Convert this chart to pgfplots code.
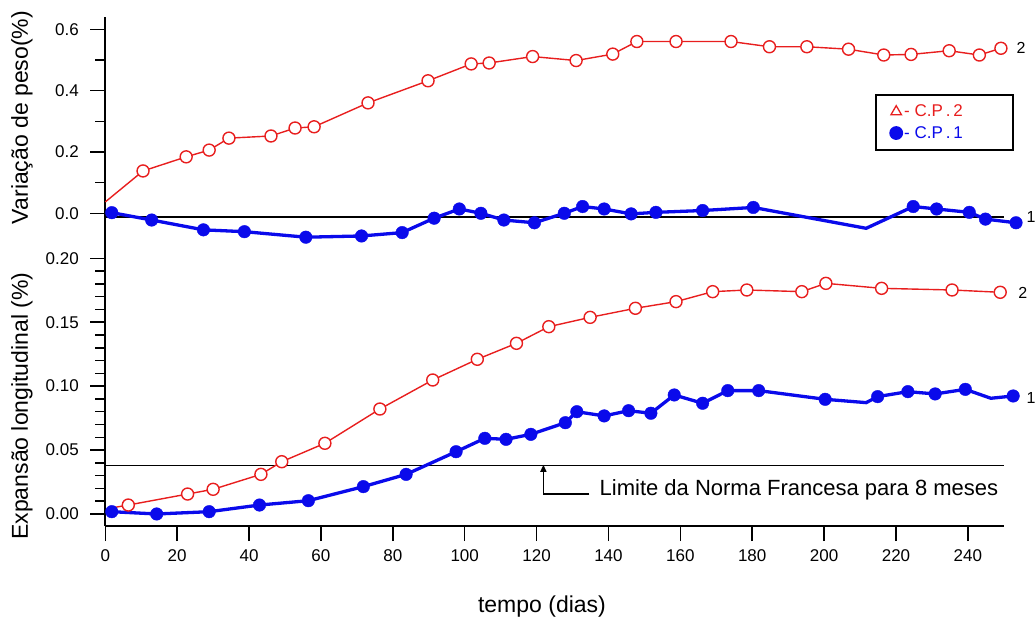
\documentclass[border=0pt]{standalone}
\usepackage{fontspec}
\setmainfont{Liberation Sans}
\usepackage{pgfplots}
\pgfplotsset{compat=1.18}
\usepackage{pgfplotstable}
\usetikzlibrary{arrows.meta}

\definecolor{cpred}{RGB}{232,30,30}
\definecolor{cpblue}{RGB}{10,10,235}

% variacao de peso, C.P.2 (first row: line start, no marker)
\pgfplotstableread{
x y
0 0.037
10.5 0.138
22.5 0.184
28.9 0.206
34.4 0.245
46.1 0.252
52.8 0.278
58.1 0.282
73.1 0.360
89.8 0.432
101.8 0.487
106.8 0.490
118.9 0.511
131.0 0.498
141.2 0.519
147.9 0.560
158.8 0.560
174.1 0.560
184.8 0.543
195.2 0.543
206.8 0.535
216.6 0.516
224.2 0.518
234.8 0.530
243.2 0.516
249.2 0.538
}\pesotwo

% variacao de peso, C.P.1 (row 19: no marker)
\pgfplotstableread{
x y
1.8 0.002
12.9 -0.022
27.3 -0.054
38.7 -0.060
55.8 -0.078
71.3 -0.074
82.6 -0.063
91.5 -0.016
98.5 0.014
104.5 0.000
110.9 -0.022
119.4 -0.031
127.7 0.000
132.8 0.022
138.8 0.014
146.3 -0.002
153.2 0.003
166.2 0.009
180.3 0.019
211.7 -0.049
224.8 0.022
231.3 0.014
240.4 0.003
244.9 -0.019
253.4 -0.031
}\pesoone

% expansao longitudinal, C.P.2 (row 0: no marker)
\pgfplotstableread{
x y
1.3 0.0045
6.4 0.0070
22.9 0.0156
30.0 0.0193
43.3 0.0310
49.1 0.0409
61.1 0.0553
76.4 0.0821
91.1 0.1048
103.5 0.1210
114.4 0.1335
123.4 0.1465
134.9 0.1538
147.5 0.1609
158.8 0.1661
169.0 0.1739
178.5 0.1752
193.8 0.1739
200.5 0.1804
216.0 0.1765
235.6 0.1752
249.0 0.1734
}\exptwo

% expansao longitudinal, C.P.1 (rows 21 and 26: no marker)
\pgfplotstableread{
x y
1.8 0.0018
14.3 0.0000
28.9 0.0018
42.9 0.0070
56.5 0.0104
71.8 0.0214
83.7 0.0310
97.6 0.0487
105.6 0.0592
111.5 0.0584
118.4 0.0623
128.0 0.0714
131.2 0.0800
138.8 0.0767
145.6 0.0808
151.8 0.0788
158.3 0.0931
166.2 0.0866
173.2 0.0965
181.8 0.0965
200.3 0.0897
211.7 0.0871
214.9 0.0918
223.3 0.0957
230.9 0.0939
239.3 0.0975
246.4 0.0905
252.6 0.0923
}\expone

\begin{document}
\begin{tikzpicture}
\path[use as bounding box] (0pt,0pt) rectangle (1036pt,619pt);
\pgfplotsset{
  panel/.style={scale only axis, width=898.5pt, xmin=0, xmax=250, clip=false,
    tick align=outside, axis line style={line width=1.8pt, -},
    major tick length=15pt, minor tick length=10pt,
    every tick/.append style={black, line width=1.5pt},
    tick label style={font=\fontsize{17}{20}\selectfont},
    yticklabel style={xshift=-8pt},
    xticklabel style={yshift=-5pt},
    /pgf/number format/assume math mode=true,
    label style={font=\fontsize{23}{27}\selectfont}},
  redline/.style={cpred, line width=1.4pt, forget plot},
  redmarks/.style={cpred, only marks, mark=*, mark size=6pt,
    mark options={fill=white, line width=1.4pt}, forget plot},
  blueline/.style={cpblue, line width=3.3pt, forget plot},
  bluemarks/.style={cpblue, only marks, mark=*, mark size=6.3pt, forget plot},
}

\begin{axis}[panel, at={(105.3pt,372.6pt)}, anchor=south west, height=229.4pt,
  ymin=-0.108, ymax=0.640, axis x line=none, axis y line*=left, xtick=\empty,
  ytick={0,0.2,0.4,0.6}, minor ytick={0.1,0.3,0.5},
  yticklabel style={/pgf/number format/.cd, fixed, fixed zerofill, precision=1},
  ylabel={Variação de peso(\%)},
  ylabel style={at={(rel axis cs:-0.0927,0.562)}, anchor=center},
  legend style={at={(0.857,0.664)}, anchor=north west, draw=black, line width=1.8pt,
    fill=white, font=\fontsize{17}{20}\selectfont, inner xsep=14pt, inner ysep=8pt,
    row sep=4pt},
  legend cell align=left]
\addlegendimage{only marks, mark=triangle, mark size=6pt, cpred, mark options={line width=1.3pt}}
\addlegendentry{\textcolor{cpred}{- C.P\,.\,2}\hspace*{34pt}}
\addlegendimage{only marks, mark=*, mark size=6pt, cpblue}
\addlegendentry{\textcolor{cpblue}{- C.P\,.\,1}\hspace*{34pt}}
\draw[line width=1.8pt, black] (axis cs:0,-0.013) -- (axis cs:250,-0.013);
\addplot[redline] table {\pesotwo};
\addplot[redmarks, skip coords between index={0}{1}] table {\pesotwo};
\addplot[blueline] table {\pesoone};
\addplot[bluemarks, skip coords between index={19}{20}] table {\pesoone};
\node[font=\fontsize{16}{19}\selectfont] at (axis cs:254.8,0.540) {2};
\node[font=\fontsize{16}{19}\selectfont] at (axis cs:257.6,-0.011) {1};
\end{axis}

\begin{axis}[panel, at={(105.3pt,93pt)}, anchor=south west, height=279.6pt,
  ymin=-0.0094, ymax=0.2093, axis x line*=bottom, axis y line*=left,
  xtick={0,20,40,60,80,100,120,140,160,180,200,220,240},
  ytick={0,0.05,0.10,0.15,0.20},
  minor ytick={0.01,0.02,0.03,0.04,0.06,0.07,0.08,0.09,0.11,0.12,0.13,0.14,0.16,0.17,0.18,0.19},
  yticklabel style={/pgf/number format/.cd, fixed, fixed zerofill, precision=2},
  xlabel={tempo (dias)},
  xlabel style={at={(rel axis cs:0.486,-0.310)}, anchor=base},
  ylabel={Expansão longitudinal (\%)},
  ylabel style={at={(rel axis cs:-0.0927,0.429)}, anchor=center}]
\draw[line width=1.8pt, black] (axis cs:0,0.038) -- (axis cs:250,0.038);
\draw[line width=1.3pt, black, -{Triangle[length=7pt,width=6pt]}]
  (axis cs:134.7,0.0156) -- (axis cs:121.9,0.0156) -- (axis cs:121.9,0.0385);
\node[anchor=west, font=\fontsize{22}{26}\selectfont, inner sep=0pt]
  at (axis cs:137.5,0.0190) {Limite da Norma Francesa para 8 meses};
\addplot[redline] table {\exptwo};
\addplot[redmarks, skip coords between index={0}{1}] table {\exptwo};
\addplot[blueline] table {\expone};
\addplot[bluemarks, skip coords between index={21}{22}, skip coords between index={26}{27}] table {\expone};
\node[font=\fontsize{16}{19}\selectfont] at (axis cs:255.3,0.1726) {2};
\node[font=\fontsize{16}{19}\selectfont] at (axis cs:257.6,0.0907) {1};
\end{axis}
\end{tikzpicture}
\end{document}
